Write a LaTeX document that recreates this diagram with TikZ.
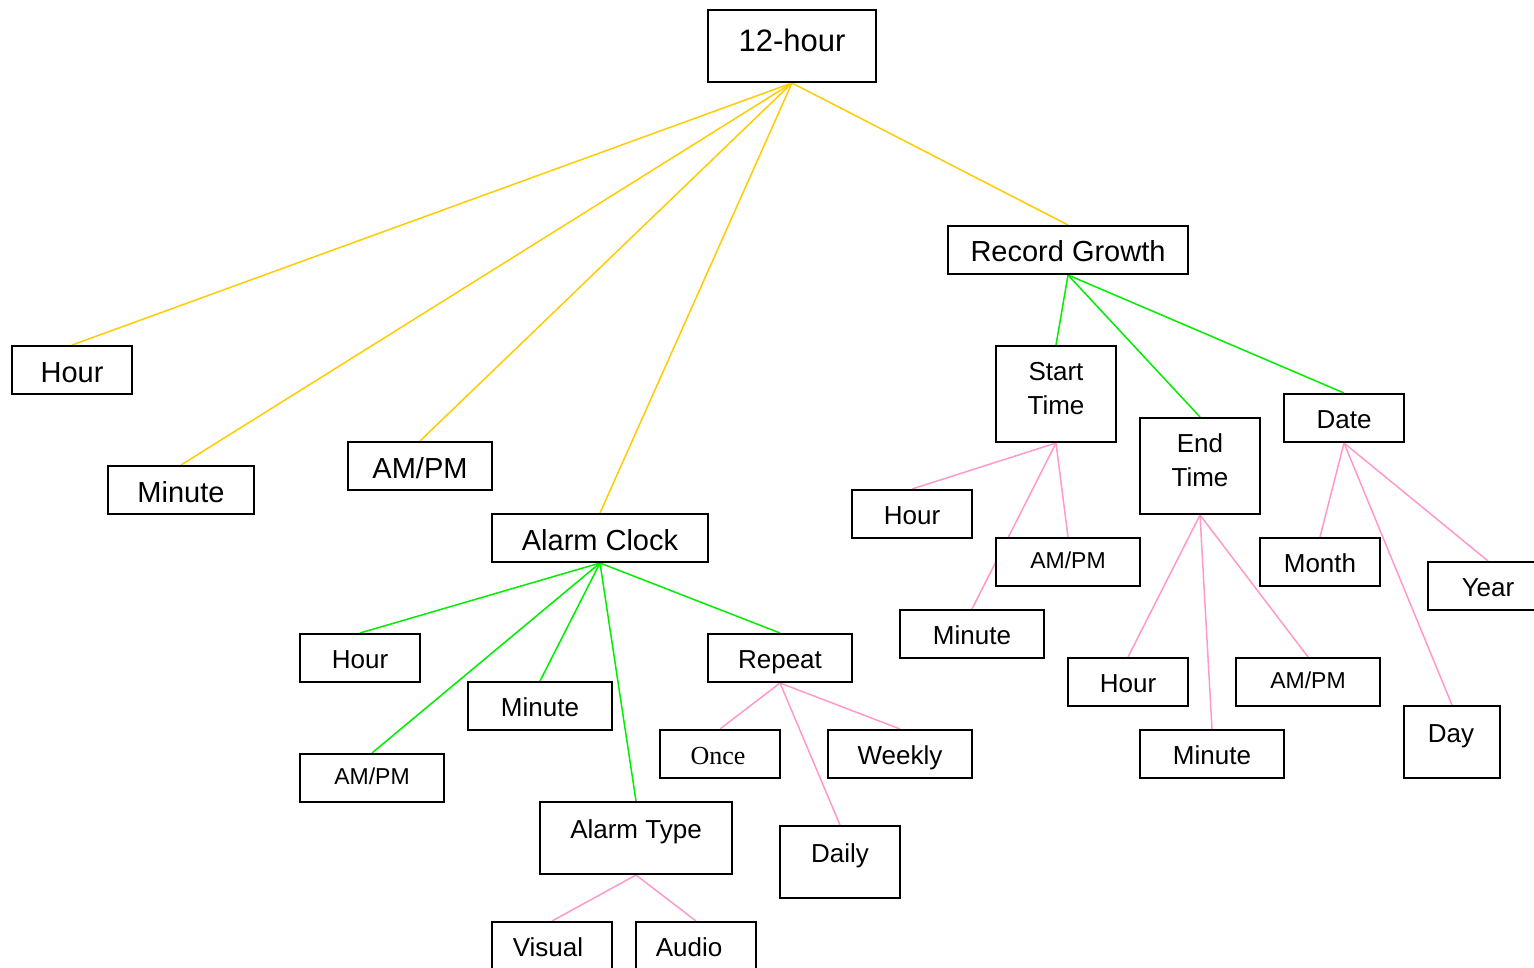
\documentclass[tikz,border=0pt]{standalone}
\usepackage{fontspec}
\setmainfont{Liberation Sans}
\newfontfamily\serifface{Liberation Serif}
\usetikzlibrary{backgrounds}
\definecolor{goldline}{HTML}{FFCC00}
\definecolor{greenline}{HTML}{00EE00}
\definecolor{pinkline}{HTML}{FF99CC}
\tikzset{
  box/.style={draw=black, line width=2pt, fill=white, inner sep=0pt},
  lbl/.style={anchor=base, inner sep=0pt},
  ftitle/.style={font=\fontsize{31}{36}\selectfont},
  fbig/.style={font=\fontsize{29}{34}\selectfont},
  fsmall/.style={font=\fontsize{26}{30}\selectfont},
  fampm/.style={font=\fontsize{23}{27}\selectfont},
  fserif/.style={font=\serifface\fontsize{26}{30}\selectfont},
  edgegold/.style={line width=1.5pt, draw=goldline},
  edgegreen/.style={line width=1.5pt, draw=greenline},
  edgepink/.style={line width=1.5pt, draw=pinkline},
}
\begin{document}
\begin{tikzpicture}[x=1pt, y=-1pt]
  \useasboundingbox (0,0) rectangle (1534,968);

  % root
  \node[box, minimum width=168, minimum height=72] (root) at (792,46) {};
  \node[lbl, ftitle] (rootT) at (792,52) {12-hour};

  % first level
  \node[box, minimum width=120, minimum height=48] (hour) at (72,370) {};
  \node[lbl, fbig] (hourT) at (72,382) {Hour};
  \node[box, minimum width=146, minimum height=48] (minute) at (181,490) {};
  \node[lbl, fbig] (minuteT) at (181,502) {Minute};
  \node[box, minimum width=144, minimum height=48] (ampm) at (420,466) {};
  \begin{scope}
    \clip (348,442) rectangle (465.5,490);
    \node[lbl, fbig] (ampmT) at (420,478) {AM/PM};
  \end{scope}
  \node[box, minimum width=216, minimum height=48] (alarm) at (600,538) {};
  \node[lbl, fbig] (alarmT) at (600,550) {Alarm Clock};
  \node[box, minimum width=240, minimum height=48] (record) at (1068,250) {};
  \node[lbl, fbig] (recordT) at (1068,262) {Record Growth};

  % alarm clock branch
  \node[box, minimum width=120, minimum height=48] (aHour) at (360,658) {};
  \node[lbl, fsmall] (aHourT) at (360,668) {Hour};
  \node[box, minimum width=144, minimum height=48] (aMinute) at (540,706) {};
  \node[lbl, fsmall] (aMinuteT) at (540,716) {Minute};
  \node[box, minimum width=144, minimum height=48] (aAmpm) at (372,778) {};
  \begin{scope}
    \clip (300,754) rectangle (408.5,802);
    \node[lbl, fampm] (aAmpmT) at (372,784) {AM/PM};
  \end{scope}
  \node[box, minimum width=144, minimum height=48] (repeat) at (780,658) {};
  \node[lbl, fsmall] (repeatT) at (780,668) {Repeat};
  \node[box, minimum width=192, minimum height=72] (atype) at (636,838) {};
  \node[lbl, fsmall] (atypeT) at (636,838) {Alarm Type};

  \node[box, minimum width=120, minimum height=48] (once) at (720,754) {};
  \node[lbl, fserif] (onceT) at (718,764) {Once};
  \node[box, minimum width=144, minimum height=48] (weekly) at (900,754) {};
  \node[lbl, fsmall] (weeklyT) at (900,764) {Weekly};
  \node[box, minimum width=120, minimum height=72] (daily) at (840,862) {};
  \node[lbl, fsmall] (dailyT) at (840,862) {Daily};

  \node[box, minimum width=120, minimum height=48] (visual) at (552,946) {};
  \node[lbl, fsmall] (visualT) at (548,956) {Visual};
  \node[box, minimum width=120, minimum height=48] (audio) at (696,946) {};
  \node[lbl, fsmall] (audioT) at (689,956) {Audio};

  % record growth branch
  \node[box, minimum width=120, minimum height=96] (start) at (1056,394) {};
  \node[lbl, fsmall] (startT1) at (1056,380) {Start};
  \node[lbl, fsmall] (startT2) at (1056,414) {Time};
  \node[box, minimum width=120, minimum height=96] (end) at (1200,466) {};
  \node[lbl, fsmall] (endT1) at (1200,452) {End};
  \node[lbl, fsmall] (endT2) at (1200,486) {Time};
  \node[box, minimum width=120, minimum height=48] (date) at (1344,418) {};
  \node[lbl, fsmall] (dateT) at (1344,428) {Date};

  \node[box, minimum width=120, minimum height=48] (sHour) at (912,514) {};
  \node[lbl, fsmall] (sHourT) at (912,524) {Hour};
  \node[box, minimum width=144, minimum height=48] (sAmpm) at (1068,562) {};
  \begin{scope}
    \clip (996,538) rectangle (1104.5,586);
    \node[lbl, fampm] (sAmpmT) at (1068,568) {AM/PM};
  \end{scope}
  \node[box, minimum width=144, minimum height=48] (sMinute) at (972,634) {};
  \node[lbl, fsmall] (sMinuteT) at (972,644) {Minute};

  \node[box, minimum width=120, minimum height=48] (eHour) at (1128,682) {};
  \node[lbl, fsmall] (eHourT) at (1128,692) {Hour};
  \node[box, minimum width=144, minimum height=48] (eAmpm) at (1308,682) {};
  \begin{scope}
    \clip (1236,658) rectangle (1344.5,706);
    \node[lbl, fampm] (eAmpmT) at (1308,688) {AM/PM};
  \end{scope}
  \node[box, minimum width=144, minimum height=48] (eMinute) at (1212,754) {};
  \node[lbl, fsmall] (eMinuteT) at (1212,764) {Minute};

  \node[box, minimum width=120, minimum height=48] (month) at (1320,562) {};
  \node[lbl, fsmall] (monthT) at (1320,572) {Month};
  \node[box, minimum width=120, minimum height=48] (year) at (1488,586) {};
  \node[lbl, fsmall] (yearT) at (1488,596) {Year};
  \node[box, minimum width=96, minimum height=72] (day) at (1452,742) {};
  \node[lbl, fsmall] (dayT) at (1451,742) {Day};

  % connectors, kept behind the boxes
  \begin{pgfonlayer}{background}
    \fill[white] (0,0) rectangle (1534,968);
    \foreach \n in {hour, minute, ampm, alarm, record}
      \draw[edgegold] (root.south) -- (\n.north);
    \foreach \n in {start, end, date}
      \draw[edgegreen] (record.south) -- (\n.north);
    \foreach \n in {aHour, aAmpm, aMinute, atype, repeat}
      \draw[edgegreen] (alarm.south) -- (\n.north);
    \foreach \n in {sHour, sAmpm, sMinute}
      \draw[edgepink] (start.south) -- (\n.north);
    \foreach \n in {eHour, eMinute, eAmpm}
      \draw[edgepink] (end.south) -- (\n.north);
    \foreach \n in {month, year, day}
      \draw[edgepink] (date.south) -- (\n.north);
    \foreach \n in {once, weekly, daily}
      \draw[edgepink] (repeat.south) -- (\n.north);
    \foreach \n in {visual, audio}
      \draw[edgepink] (atype.south) -- (\n.north);
  \end{pgfonlayer}
\end{tikzpicture}
\end{document}
